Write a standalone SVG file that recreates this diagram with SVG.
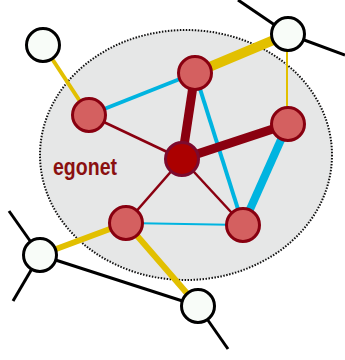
<svg xmlns="http://www.w3.org/2000/svg" width="345" height="360" viewBox="0 0 345 360">
<style>
.bk{stroke:#000;stroke-width:3;fill:none}
.y{stroke:#e2c000;fill:none}
.b{stroke:#00b4e0;fill:none}
.r{stroke:#8a0010;fill:none}
.out{fill:#f8fcf8;stroke:#000;stroke-width:3}
.in{fill:#d46060;stroke:#880010;stroke-width:3}
.ego{fill:#ab0000;stroke:#7c0a2e;stroke-width:3}
</style>
<rect width="345" height="360" fill="#fff"/>
<ellipse cx="186" cy="155" rx="146" ry="125" fill="#e6e7e7" stroke="#111" stroke-width="2" stroke-dasharray="1.5 1.5"/>
<text x="53" y="175" font-family="Liberation Sans, Arial, sans-serif" font-weight="bold" font-size="24" fill="#8a1010" textLength="64" lengthAdjust="spacingAndGlyphs">egonet</text>
<g id="connectors">
<line class="bk" x1="238" y1="0" x2="288" y2="34"/>
<line class="bk" x1="288" y1="34" x2="345" y2="55"/>
<line class="bk" x1="9" y1="211" x2="40" y2="255"/>
<line class="bk" x1="40" y1="255" x2="13" y2="301"/>
<line class="bk" x1="40" y1="255" x2="198" y2="306"/>
<line class="bk" x1="198" y1="306" x2="228" y2="349"/>
<line class="y" stroke-width="4" x1="43" y1="45" x2="89" y2="115"/>
<line class="y" stroke-width="10" x1="195" y1="73" x2="288" y2="34"/>
<line class="y" stroke-width="2" x1="287" y1="34" x2="287" y2="124"/>
<line class="y" stroke-width="6" x1="126" y1="223" x2="40" y2="255"/>
<line class="y" stroke-width="6" x1="126" y1="223" x2="198" y2="306"/>
<line class="b" stroke-width="4" x1="89" y1="115" x2="195" y2="73"/>
<line class="b" stroke-width="4" x1="195" y1="73" x2="243" y2="225"/>
<line class="b" stroke-width="8" x1="288" y1="124" x2="243" y2="225"/>
<line class="b" stroke-width="2" x1="126" y1="223" x2="243" y2="225"/>
<line class="r" stroke-width="9" x1="182" y1="159" x2="195" y2="73"/>
<line class="r" stroke-width="9" x1="182" y1="159" x2="288" y2="124"/>
<line class="r" stroke-width="2.5" x1="182" y1="159" x2="89" y2="115"/>
<line class="r" stroke-width="2.5" x1="182" y1="159" x2="126" y2="223"/>
<line class="r" stroke-width="2.5" x1="182" y1="159" x2="243" y2="225"/>
</g>
<g id="n-out-tl"><circle class="out" cx="43" cy="45" r="16.5"/></g>
<g id="n-out-tr"><circle class="out" cx="288" cy="34" r="16.5"/></g>
<g id="n-out-bl"><circle class="out" cx="40" cy="255" r="16.5"/></g>
<g id="n-out-b"><circle class="out" cx="198" cy="306" r="16.5"/></g>
<g id="n-top"><circle class="in" cx="195" cy="73" r="16.5"/></g>
<g id="n-left"><circle class="in" cx="89" cy="115" r="16.5"/></g>
<g id="n-right"><circle class="in" cx="288" cy="124" r="16.5"/></g>
<g id="n-bl"><circle class="in" cx="126" cy="223" r="16.5"/></g>
<g id="n-br"><circle class="in" cx="243" cy="225" r="16.5"/></g>
<g id="n-ego"><circle class="ego" cx="182" cy="159" r="16.5"/></g>
</svg>
